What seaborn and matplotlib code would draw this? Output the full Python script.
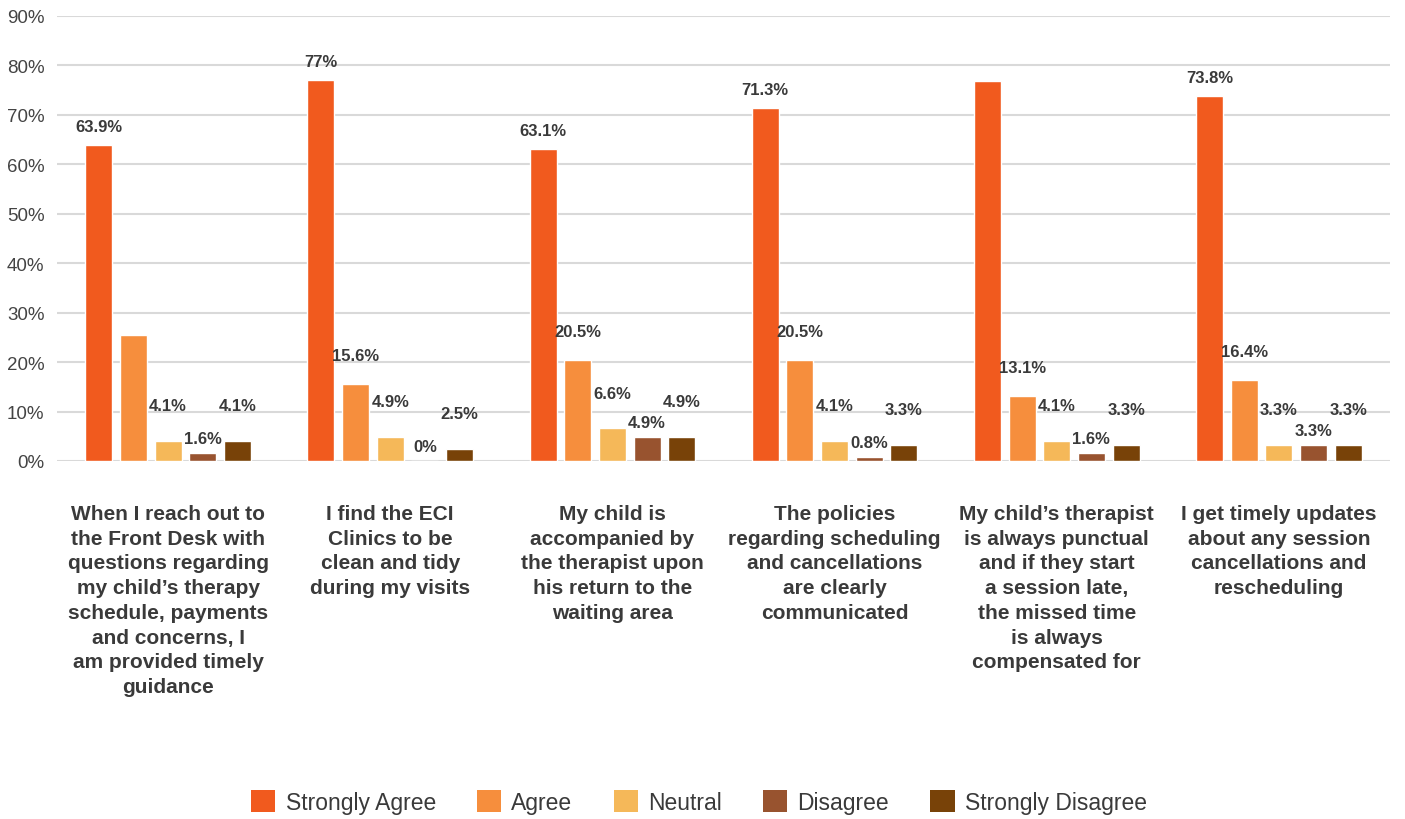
import matplotlib
matplotlib.use("Agg")
import matplotlib.pyplot as plt
from matplotlib.patches import Patch
import seaborn as sns
import pandas as pd

# Survey statements (x-axis categories)
statements = [
    "When I reach out to\nthe Front Desk with\nquestions regarding\nmy child\u2019s therapy\nschedule, payments\nand concerns, I\nam provided timely\nguidance",
    "I find the ECI\nClinics to be\nclean and tidy\nduring my visits",
    "My child is\naccompanied by\nthe therapist upon\nhis return to the\nwaiting area",
    "The policies\nregarding scheduling\nand cancellations\nare clearly\ncommunicated",
    "My child\u2019s therapist\nis always punctual\nand if they start\na session late,\nthe missed time\nis always\ncompensated for",
    "I get timely updates\nabout any session\ncancellations and\nrescheduling",
]

responses = ["Strongly Agree", "Agree", "Neutral", "Disagree", "Strongly Disagree"]

# Share of respondents (%) per response, one value per statement
strongly_agree    = [63.9, 77.0, 63.1, 71.3, 76.8, 73.8]
agree             = [25.5, 15.6, 20.5, 20.5, 13.1, 16.4]
neutral           = [4.1, 4.9, 6.6, 4.1, 4.1, 3.3]
disagree          = [1.6, 0.0, 4.9, 0.8, 1.6, 3.3]
strongly_disagree = [4.1, 2.5, 4.9, 3.3, 3.3, 3.3]

# Which bars carry a value label
show_sa = [True, True, True, True, False, True]
show_ag = [False, True, True, True, True, True]
show_ne = [True] * 6
show_di = [True] * 6
show_sd = [True] * 6

y_ticks = [0, 10, 20, 30, 40, 50, 60, 70, 80, 90]
y_tick_labels = [f"{t}%" for t in y_ticks]

colors = ["#F15A1E", "#F68E3D", "#F5B859", "#98532F", "#784208"]

# Gap (points) between a bar top and its value label, per response
label_pad = [8, 15, 20, 5, 20]

series = [strongly_agree, agree, neutral, disagree, strongly_disagree]
shows = [show_sa, show_ag, show_ne, show_di, show_sd]

rows = []
for resp, vals in zip(responses, series):
    for stmt, v in zip(statements, vals):
        rows.append({"statement": stmt, "response": resp, "value": v})
df = pd.DataFrame(rows)

sns.set_theme(style="white")
plt.rcParams["font.family"] = ["Liberation Sans", "DejaVu Sans"]

W, H = 1405, 820
fig = plt.figure(figsize=(W / 100, H / 100), dpi=100)
ax = fig.add_axes([57 / W, 1 - 462 / H, 1333 / W, 445 / H])

sns.barplot(
    data=df, x="statement", y="value", hue="response",
    order=statements, hue_order=responses, palette=colors,
    width=0.78, gap=0.22, saturation=1, ax=ax, zorder=3, legend=False,
)

ax.set_ylim(0, 90)
ax.set_xlim(-0.5, len(statements) - 0.5)
ax.set_yticks(y_ticks)
ax.set_yticklabels(y_tick_labels, fontsize=13.5, color="#444444")
ax.yaxis.grid(True, color="#d9d9d9", linewidth=1.5, zorder=0)
ax.set_axisbelow(True)
for s in ax.spines.values():
    s.set_visible(False)
ax.tick_params(axis="y", length=0, pad=9)
ax.tick_params(axis="x", length=0, pad=31)
ax.set_xticks(range(len(statements)))
ax.set_xticklabels(statements, fontsize=15, fontweight="bold", color="#3a3a3a",
                   linespacing=1.38, va="top", ha="center")
ax.set_xlabel("")
ax.set_ylabel("")

# Value labels above bars
for cont, vals, show, pad in zip(ax.containers, series, shows, label_pad):
    texts = [f"{v:g}%" if s else "" for v, s in zip(vals, show)]
    ax.bar_label(cont, labels=texts, padding=pad, fontsize=12,
                 fontweight="bold", color="#3a3a3a")

handles = [Patch(facecolor=c, edgecolor="none") for c in colors]
fig.legend(handles, responses, loc="center", bbox_to_anchor=(699 / W, 1 - 803 / H),
           ncol=5, frameon=False, fontsize=16.5, handlelength=1.05, handleheight=1.05,
           handletextpad=0.45, columnspacing=1.8, labelcolor="#3a3a3a")

fig.savefig("out.png", dpi=100)
